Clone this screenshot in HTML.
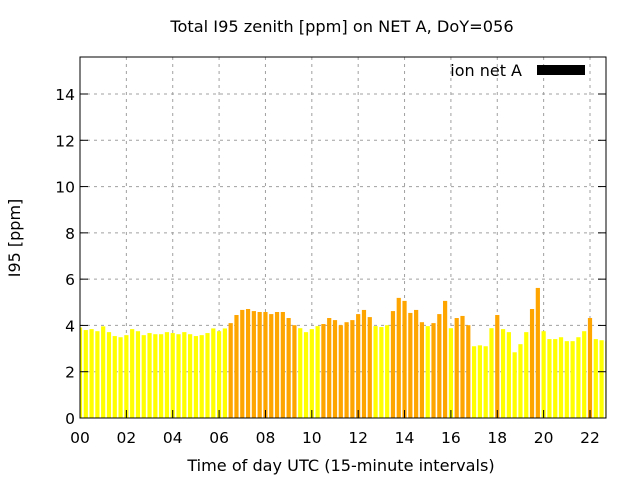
<!DOCTYPE html>
<html><head><meta charset="utf-8"><style>
body{margin:0;background:#fff}
svg text{font-family:"DejaVu Sans","Liberation Sans",sans-serif;fill:#000}
</style></head><body>
<svg id="c" width="640" height="480" xmlns="http://www.w3.org/2000/svg">
<rect width="640" height="480" fill="#fff"/>
<text x="342" y="32" font-size="16.2" text-anchor="middle">Total I95 zenith [ppm] on NET A, DoY=056</text>
<text x="341" y="471" font-size="16.1" text-anchor="middle">Time of day UTC (15-minute intervals)</text>
<text transform="translate(20,238) rotate(-90)" font-size="16" text-anchor="middle">I95 [ppm]</text>
<g id="grid"></g><g id="bars"></g><g id="ticks"></g>
<rect x="80" y="57" width="526" height="361" fill="none" stroke="#000" stroke-width="1"/>
<g>
<text x="522" y="76" font-size="16" text-anchor="end">ion net A</text>
<rect x="537" y="65" width="48" height="10" fill="#000"/>
</g>
</svg>
<script>
const values=[3.91,3.80,3.84,3.75,3.96,3.71,3.54,3.49,3.58,3.84,3.75,3.58,3.67,3.62,3.62,3.71,3.67,3.62,3.71,3.62,3.54,3.58,3.67,3.87,3.75,3.87,
4.10,4.45,4.67,4.71,4.62,4.58,4.58,4.49,4.58,4.58,4.32,4.01,3.88,3.71,3.84,3.97,4.06,4.32,4.23,4.01,4.14,4.23,4.49,4.67,4.36,3.97,3.93,4.01,4.62,5.19,5.06,4.54,4.67,4.14,3.97,4.10,4.49,5.06,3.88,4.32,4.41,4.01,3.10,3.14,3.10,3.88,4.45,3.84,3.71,2.84,3.19,3.71,4.71,5.62,3.75,3.41,3.41,3.49,3.32,3.32,3.49,3.75,4.32,3.41,3.36,3.32];
const orangeIdx=[26,27,28,29,30,31,32,33,34,35,36,37,42,43,44,45,46,47,48,49,50,54,55,56,57,58,59,61,62,63,65,66,67,72,78,79,88];
const yTicks=[0,2,4,6,8,10,12,14];
const xTicks=["00","02","04","06","08","10","12","14","16","18","20","22"];
const L=80,R=606,T=57,B=418;
const hourPx=(590-80)/22;
const xS=h=>L+h*hourPx;
const yMax=(B-T)/((B-94)/14);
const yS=v=>B-v/yMax*(B-T);
const NS="http://www.w3.org/2000/svg";
function mk(tag,attrs,parent){const e=document.createElementNS(NS,tag);for(const k in attrs)e.setAttribute(k,attrs[k]);document.getElementById(parent).appendChild(e);return e;}
yTicks.forEach(v=>{
 const y=yS(v);
 if(v>0){const g=mk('line',{x1:L,x2:R,y1:y,y2:y,stroke:'#a0a0a0','stroke-dasharray':'3,4'},'grid');
 
 }
 const t=mk('line',{x1:L,x2:L+8,y1:y,y2:y,stroke:'#000'},'ticks');
 
 
 const t2=mk('line',{x1:R-8,x2:R,y1:y,y2:y,stroke:'#000'},'ticks');
 
 
 const lb=mk('text',{x:L-5,y:y+6,'font-size':15.5,'text-anchor':'end'},'ticks');
 lb.textContent=v;
 
 
});
xTicks.forEach(s=>{
 const x=xS(parseInt(s,10));
 if(x>L){const g=mk('line',{x1:x,x2:x,y1:T,y2:B,stroke:'#a0a0a0','stroke-dasharray':'3,4'},'grid');
 
 }
 const t=mk('line',{x1:x,x2:x,y1:B-8,y2:B,stroke:'#000'},'ticks');
 
 
 const lb=mk('text',{x:x,y:B+25,'font-size':15.5,'text-anchor':'middle'},'ticks');
 lb.textContent=s;
 
 
});
const bw=4.2;
values.forEach((v,i)=>{
 const cx=xS(i*0.25);
 let x0=Math.max(L,cx-bw/2), x1=Math.min(R,cx+bw/2);
 if(x1<=x0)return;
 const b=mk('rect',{x:x0,y:yS(v),width:x1-x0,height:B-yS(v),fill:orangeIdx.includes(i)?'#ffa500':'#ffff00'},'bars');
 
 
});
</script>
</body></html>
